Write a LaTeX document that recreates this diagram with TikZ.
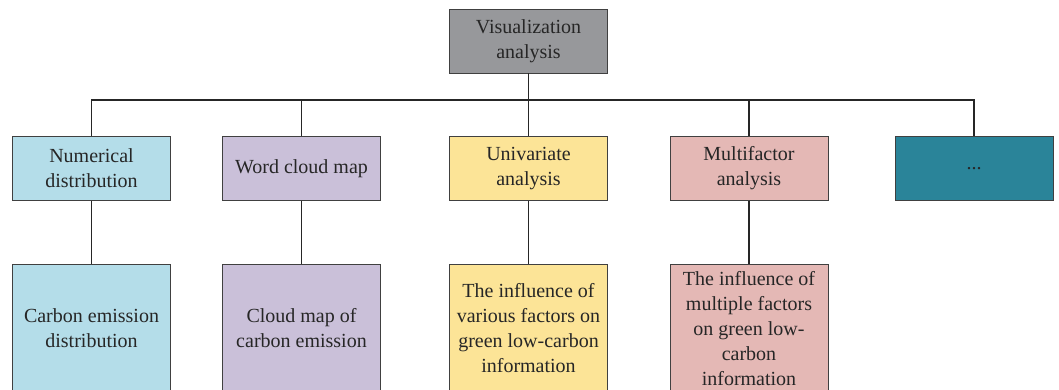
\documentclass[tikz,border=0pt]{standalone}
\usepackage{fontspec}
\setmainfont{Liberation Serif}
\usepackage{xcolor}

\definecolor{topgray}{HTML}{97989B}
\definecolor{numblue}{HTML}{B4DDE9}
\definecolor{wordlilac}{HTML}{CAC0D9}
\definecolor{univyellow}{HTML}{FCE497}
\definecolor{multipink}{HTML}{E4B8B5}
\definecolor{dotsteal}{HTML}{2A8499}

\tikzset{
  box/.style={draw=black!75, line width=0.8pt, minimum width=158pt, align=center,
    inner sep=2pt, font=\fontsize{20}{25}\selectfont, text=black!85},
  headbox/.style={box, minimum height=64pt, anchor=north},
  leafbox/.style={box, minimum height=128pt, anchor=north},
  link/.style={line width=1.2pt, black!85}
}

\begin{document}
\begin{tikzpicture}[x=1pt, y=-1pt]
        \useasboundingbox (0,0) rectangle (1059,390);
        % root
        \node[box, fill=topgray, minimum height=64pt] (root) at (528.5,41) {Visualization\\analysis};
        % first level
        \node[headbox, fill=numblue] (num) at (91.5,136) {Numerical\\distribution};
        \node[headbox, fill=wordlilac] (word) at (301.5,136) {Word cloud map};
        \node[headbox, fill=univyellow] (univ) at (528.5,136) {Univariate\\analysis};
        \node[headbox, fill=multipink] (multi) at (749,136) {Multifactor\\analysis};
        \node[headbox, fill=dotsteal] (more) at (974,136) {...};
        % second level
        \node[leafbox, fill=numblue] (numleaf) at (91.5,264) {Carbon emission\\distribution};
        \node[leafbox, fill=wordlilac] (wordleaf) at (301.5,264) {Cloud map of\\carbon emission};
        \node[leafbox, fill=univyellow] (univleaf) at (528.5,264) {The influence of\\various factors on\\green low-carbon\\information};
        \node[leafbox, fill=multipink] (multileaf) at (749,264) {The influence of\\multiple factors\\on green low-\\carbon\\information};
        % connectors
        \coordinate (bus) at (0,100);
        \draw[link] (root.south) -- (root.south |- bus);
        \draw[link] (num.north) |- (more.north |- bus) -- (more.north);
        \foreach \n in {word,univ,multi} \draw[link] (\n.north) -- (\n.north |- bus);
        \foreach \n in {num,word,univ,multi} \draw[link] (\n.south) -- (\n leaf.north);
    \end{tikzpicture}
\end{document}
